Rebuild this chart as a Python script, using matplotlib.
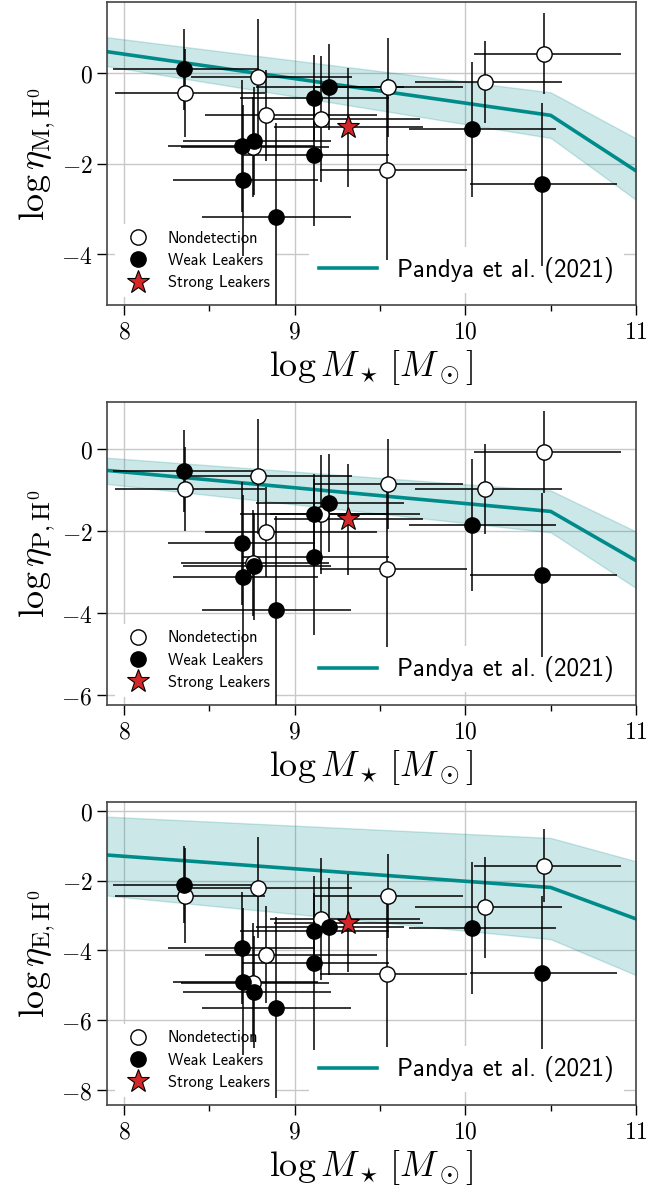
import matplotlib
matplotlib.use("Agg")
import matplotlib.pyplot as plt
from matplotlib.lines import Line2D
from matplotlib.ticker import MultipleLocator, FuncFormatter

plt.rcParams['mathtext.fontset'] = 'cm'

# stellar masses (same galaxies in every panel), split by LyC class
logm_non = [8.355, 8.783, 8.833, 8.753, 9.152, 9.548, 9.540, 10.115, 10.462]
logm_non_lo = [0.41, 0.39, 0.36, 0.42, 0.30, 0.43, 0.39, 0.41, 0.41]
logm_non_hi = [0.47, 0.55, 0.65, 0.45, 0.58, 0.44, 0.47, 0.45, 0.45]

logm_weak = [8.352, 8.763, 8.690, 8.694, 8.888, 9.110, 9.110, 9.202, 10.038, 10.448]
logm_weak_lo = [0.42, 0.42, 0.43, 0.41, 0.43, 0.43, 0.42, 0.43, 0.37, 0.42]
logm_weak_hi = [0.44, 0.45, 0.43, 0.44, 0.44, 0.44, 0.44, 0.44, 0.49, 0.44]

logm_strong = [9.309]
logm_strong_lo = [0.43]
logm_strong_hi = [0.44]

# mass loading
etaM_non = [-0.44, -0.09, -0.93, -1.63, -1.01, -0.31, -2.13, -0.19, 0.44]
etaM_non_err = [0.97, 1.3, 1.0, 1.1, 1.4, 1.1, 2.0, 0.9, 0.9]
etaM_weak = [0.09, -1.50, -1.61, -2.37, -3.17, -0.54, -1.81, -0.31, -1.24, -2.46]
etaM_weak_err = [0.89, 1.2, 1.46, 1.67, 2.07, 0.95, 1.56, 0.95, 1.5, 1.8]
etaM_strong = [-1.19]
etaM_strong_err = [1.32]

# momentum loading
etaP_non = [-0.97, -0.66, -2.02, -2.78, -1.59, -0.85, -2.93, -0.98, -0.07]
etaP_non_err = [1.03, 1.4, 1.1, 1.3, 1.45, 1.1, 1.9, 1.1, 1.0]
etaP_weak = [-0.53, -2.86, -2.30, -3.11, -3.93, -1.58, -2.63, -1.32, -1.85, -3.07]
etaP_weak_err = [1.0, 1.3, 1.5, 2.0, 2.3, 0.97, 1.9, 1.2, 1.6, 2.0]
etaP_strong = [-1.71]
etaP_strong_err = [1.35]

# energy loading
etaE_non = [-2.44, -2.21, -4.12, -4.93, -3.11, -2.44, -4.68, -2.77, -1.57]
etaE_non_err = [1.36, 1.45, 1.4, 1.7, 1.75, 1.2, 2.1, 1.45, 1.05]
etaE_weak = [-2.12, -5.20, -3.93, -4.90, -5.64, -3.45, -4.36, -3.32, -3.36, -4.64]
etaE_weak_err = [1.1, 1.6, 1.6, 2.1, 2.6, 1.1, 2.5, 1.4, 1.9, 2.2]
etaE_strong = [-3.21]
etaE_strong_err = [1.4]

# Pandya et al. (2021) relation and scatter
pandya_logm = [7.9, 10.5, 11.0]
pandya_M = [0.48, -0.93, -2.16]
pandya_M_lo = [0.16, -1.43, -2.80]
pandya_M_hi = [0.80, -0.42, -1.44]
pandya_P = [-0.52, -1.52, -2.72]
pandya_P_lo = [-0.85, -2.03, -3.39]
pandya_P_hi = [-0.21, -1.01, -2.01]
pandya_E = [-1.27, -2.20, -3.10]
pandya_E_lo = [-2.43, -3.68, -4.71]
pandya_E_hi = [-0.17, -0.78, -1.45]

ylabels = [r'$\mathrm{log}\,\eta_{\mathrm{M,H}^0}$', r'$\mathrm{log}\,\eta_{\mathrm{P,H}^0}$',
           r'$\mathrm{log}\,\eta_{\mathrm{E,H}^0}$']
ylims = [(-5.13, 1.58), (-6.24, 1.15), (-8.43, 0.25)]

panels = [
    (etaM_non, etaM_non_err, etaM_weak, etaM_weak_err, etaM_strong, etaM_strong_err,
     pandya_M, pandya_M_lo, pandya_M_hi),
    (etaP_non, etaP_non_err, etaP_weak, etaP_weak_err, etaP_strong, etaP_strong_err,
     pandya_P, pandya_P_lo, pandya_P_hi),
    (etaE_non, etaE_non_err, etaE_weak, etaE_weak_err, etaE_strong, etaE_strong_err,
     pandya_E, pandya_E_lo, pandya_E_hi),
]

teal = '#008b8b'
cmfmt = FuncFormatter(lambda v, p: r'$%d$' % round(v))

fig = plt.figure(figsize=(6.65, 11.92), dpi=100)
bottoms = [0.7441, 0.4086, 0.0730]

for i, p in enumerate(panels):
    y_non, e_non, y_weak, e_weak, y_str, e_str, pm, plo, phi = p
    ax = fig.add_axes([0.161, bottoms[i], 0.7955, 0.2542])

    ax.fill_between(pandya_logm, plo, phi, color=teal, alpha=0.2, zorder=1)
    pline, = ax.plot(pandya_logm, pm, color=teal, lw=2.6, zorder=1.5)

    ax.errorbar(logm_non, y_non, xerr=[logm_non_lo, logm_non_hi], yerr=e_non,
                fmt='o', ms=11, mfc='white', mec='k', mew=1, ecolor='k',
                elinewidth=1.1, capsize=0, zorder=3)
    ax.errorbar(logm_weak, y_weak, xerr=[logm_weak_lo, logm_weak_hi], yerr=e_weak,
                fmt='o', ms=11, mfc='k', mec='k', mew=1, ecolor='k',
                elinewidth=1.1, capsize=0, zorder=3)
    ax.errorbar(logm_strong, y_str, xerr=[logm_strong_lo, logm_strong_hi], yerr=e_str,
                fmt='*', ms=17, mfc='#d62728', mec='k', mew=0.8, ecolor='k',
                elinewidth=1.1, capsize=0, zorder=3)

    handles = [
        Line2D([], [], marker='o', ls='none', ms=11, mfc='white', mec='k', mew=1),
        Line2D([], [], marker='o', ls='none', ms=11, mfc='k', mec='k', mew=1),
        Line2D([], [], marker='*', ls='none', ms=17, mfc='#d62728', mec='k', mew=0.8),
    ]
    labels = ['Nondetection', 'Weak Leakers', 'Strong Leakers']
    leg1 = ax.legend(handles, labels, loc='lower left',
                     prop={'family': 'cmss10', 'size': 11.8},
                     frameon=True, facecolor='white', edgecolor='none',
                     framealpha=1, fancybox=False, handletextpad=0.8,
                     labelspacing=0.45)
    leg1.set_zorder(2.5)
    ax.add_artist(leg1)
    leg2 = ax.legend([pline], ['Pandya et al. (2021)'],
                     loc='lower right', prop={'family': 'cmss10', 'size': 18},
                     frameon=True, facecolor='white', edgecolor='none', framealpha=1,
                     fancybox=False, handlelength=2.3)
    leg2.set_zorder(2.5)

    ax.set_xlim(7.9, 11.0)
    ax.set_ylim(*ylims[i])
    ax.xaxis.set_major_locator(MultipleLocator(1))
    ax.xaxis.set_minor_locator(MultipleLocator(0.5))
    ax.yaxis.set_major_locator(MultipleLocator(2))
    ax.xaxis.set_major_formatter(cmfmt)
    ax.yaxis.set_major_formatter(cmfmt)
    ax.tick_params(which='major', direction='out', length=7, width=1, labelsize=17)
    ax.tick_params(which='minor', direction='out', length=4, width=1)
    ax.grid(True, color='#c8c8c8', lw=1.0)
    ax.set_axisbelow(True)
    for s in ax.spines.values():
        s.set_color('#444444')
        s.set_linewidth(1.2)

    ax.set_xlabel(r'$\mathrm{log}\,M_\star\,[M_\odot]$', fontsize=26, labelpad=3)
    ax.set_ylabel(ylabels[i], fontsize=26, labelpad=3)

fig.savefig('out.png', dpi=100)
